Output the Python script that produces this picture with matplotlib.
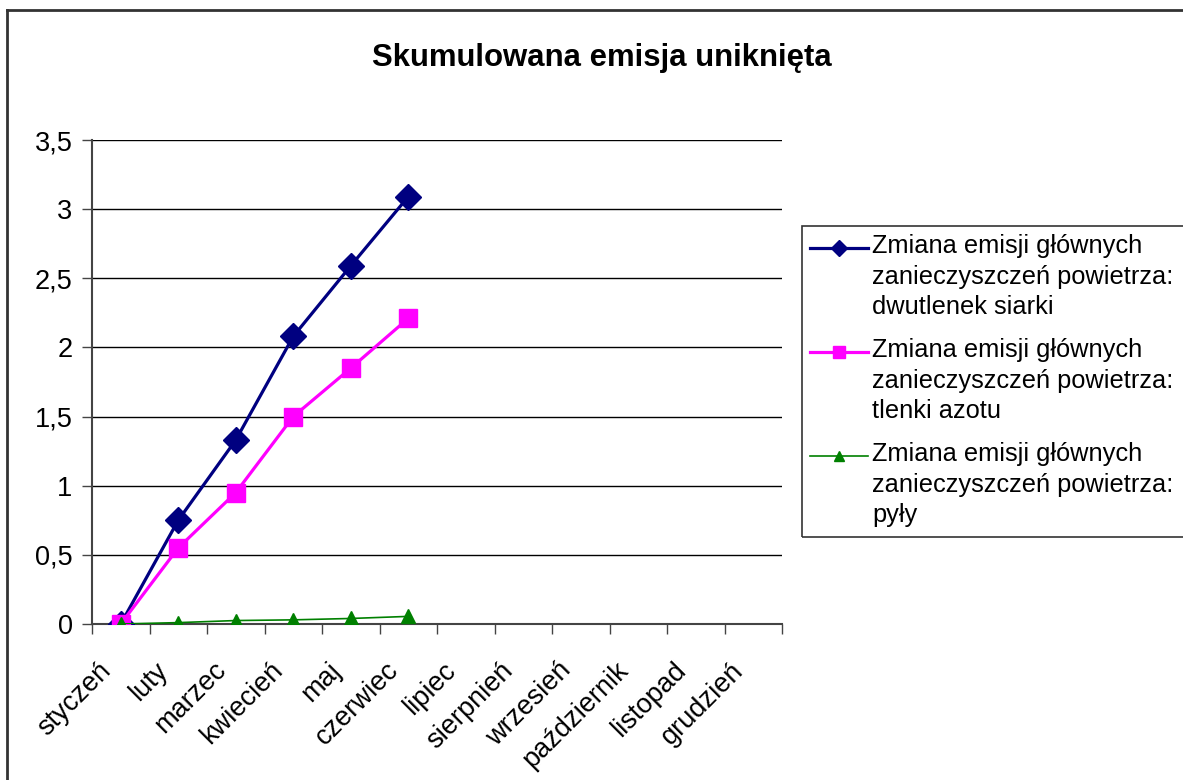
import matplotlib.pyplot as plt
from matplotlib.lines import Line2D
from matplotlib.patches import Rectangle
from matplotlib.ticker import FuncFormatter, MultipleLocator
from matplotlib.transforms import ScaledTranslation
import numpy as np

plt.rcParams['font.family'] = ['Liberation Sans', 'DejaVu Sans']

months = ['styczeń', 'luty', 'marzec', 'kwiecień', 'maj', 'czerwiec',
          'lipiec', 'sierpnień', 'wrzesień', 'październik', 'listopad', 'grudzień']

so2 = [0.0, 0.75, 1.33, 2.08, 2.59, 3.09]
nox = [0.0, 0.55, 0.95, 1.50, 1.85, 2.21]
pyly = [0.0, 0.01, 0.025, 0.03, 0.04, 0.055]

labels = [
    'Zmiana emisji głównych\nzanieczyszczeń powietrza:\ndwutlenek siarki',
    'Zmiana emisji głównych\nzanieczyszczeń powietrza:\ntlenki azotu',
    'Zmiana emisji głównych\nzanieczyszczeń powietrza:\npyły',
]

W, H = 1183, 780
fig = plt.figure(figsize=(W / 100, H / 100), dpi=100)
ax = fig.add_axes([92 / W, 1 - 624 / H, 690 / W, 484 / H])

styles = [
    dict(color='#000080', lw=2.3, marker='D', ms=13),
    dict(color='#FF00FF', lw=2.3, marker='s', ms=13),
    dict(color='#008000', lw=1.2, marker='^', ms=10),
]

x = np.arange(len(so2))
ax.plot(x, so2, zorder=3, **styles[0])
ax.plot(x, nox, zorder=4, **styles[1])
ax.plot(x, pyly, zorder=5, **styles[2])

ax.set_xlim(-0.5, len(months) - 0.5)
ax.set_ylim(0, 3.5)
ax.yaxis.set_major_locator(MultipleLocator(0.5))
ax.yaxis.set_major_formatter(FuncFormatter(lambda v, p: f'{v:g}'.replace('.', ',')))
ax.grid(axis='y', color='black', lw=1)
ax.set_axisbelow(True)

ax.set_xticks(np.arange(len(months) + 1) - 0.5)
ax.set_xticklabels([])
ax.set_xticks(np.arange(len(months)), minor=True)
ax.set_xticklabels(months, minor=True, rotation=45, ha='right', va='center',
                   rotation_mode='anchor', fontsize=19.5)
ax.tick_params(axis='x', which='minor', length=0, pad=22)
ax.tick_params(axis='x', which='major', length=7, width=1, color='#444444')
ax.tick_params(axis='y', length=7, width=1, labelsize=19.5, pad=7, color='#444444')

# przesunięcie etykiet miesięcy (lekko w lewo i w dół)
shift = ScaledTranslation(-14 / 100, -12 / 100, fig.dpi_scale_trans)
for lab in ax.get_xticklabels(minor=True):
    lab.set_transform(lab.get_transform() + shift)

for s in ['top', 'right']:
    ax.spines[s].set_visible(False)
for s in ['left', 'bottom']:
    ax.spines[s].set_color('#444444')
    ax.spines[s].set_linewidth(1.5)

fig.text(602 / W, 1 - 58 / H, 'Skumulowana emisja uniknięta',
         ha='center', va='center', fontsize=22.4, fontweight='bold')

# legenda w stylu Excela (znacznik przy pierwszej linii opisu)
fig.add_artist(Rectangle((802 / W, 1 - 537 / H), 400 / W, 311 / H,
                         transform=fig.transFigure, fill=False,
                         edgecolor='#333333', lw=1.2))
for i, (lab, st) in enumerate(zip(labels, styles)):
    yc = 1 - (248 + i * 104) / H
    fig.add_artist(Line2D([810 / W, 868 / W], [yc, yc], transform=fig.transFigure,
                          color=st['color'], lw=st['lw']))
    fig.add_artist(Line2D([839 / W], [yc], transform=fig.transFigure,
                          color=st['color'], marker=st['marker'],
                          ms=st['ms'] * 0.65, lw=0))
    fig.text(872 / W, 1 - (248 - 14 + i * 104) / H, lab, ha='left', va='top',
             fontsize=18.3, linespacing=1.35)

# ramka wykresu (widoczna tylko góra i lewa strona)
fig.add_artist(Line2D([7 / W, 7 / W], [0, 1 - 10 / H],
                      transform=fig.transFigure, color='#333333', lw=2))
fig.add_artist(Line2D([7 / W, 1], [1 - 10 / H, 1 - 10 / H],
                      transform=fig.transFigure, color='#333333', lw=2))

fig.savefig('out.png', dpi=100)
